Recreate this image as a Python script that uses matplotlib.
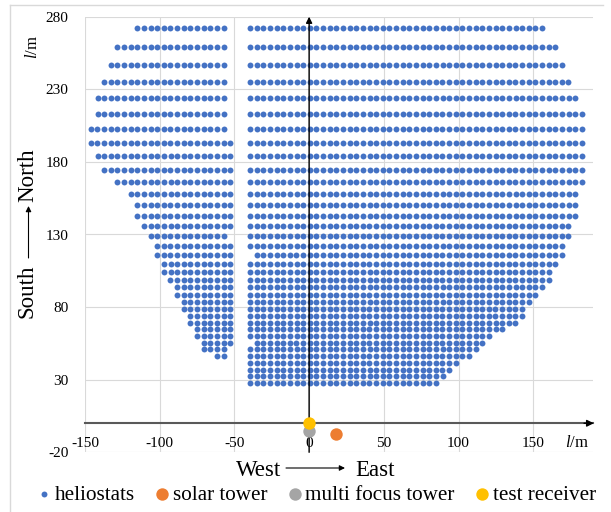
import matplotlib
matplotlib.use('Agg')
import matplotlib.pyplot as plt
import numpy as np
from matplotlib.lines import Line2D

plt.rcParams['font.family'] = 'Liberation Serif'
plt.rcParams['mathtext.fontset'] = 'custom'
plt.rcParams['mathtext.rm'] = 'Liberation Serif'
plt.rcParams['mathtext.it'] = 'Liberation Serif:italic'
plt.rcParams['axes.unicode_minus'] = False

# Heliostat field, one entry per row (m). West block is the part left of the gap.
spacing = 4.44
row_y = [272.0, 259.3, 247.0, 235.2, 223.8, 213.1, 202.8, 192.9, 183.9, 174.5,
         166.0, 158.0, 150.2, 142.6, 135.6, 128.8, 121.9, 116.1, 110.0, 104.0,
         98.8, 93.6, 88.5, 83.3, 78.5, 73.8, 69.2, 64.6, 59.9, 55.4,
         50.8, 46.2, 41.6, 37.0, 32.4, 28.0]
west_first = [-115.0, -128.3, -132.7, -137.2, -141.6, -141.6, -146.1, -146.1, -141.6, -137.2,
              -128.3, -119.4, -115.0, -115.0, -110.5, -106.1, -101.7, -101.7, -97.2, -97.2,
              -92.8, -88.3, -88.3, -83.9, -83.9, -79.5, -79.5, -75.0, -75.0, -70.6,
              -70.6, -61.7, None, None, None, None]
west_last = [-57.3, -57.3, -57.3, -57.3, -57.3, -57.3, -57.3, -52.8, -52.8, -52.8,
             -52.8, -52.8, -52.8, -52.8, -52.8, -57.3, -52.8, -52.8, -52.8, -52.8,
             -52.8, -52.8, -52.8, -52.8, -52.8, -52.8, -52.8, -52.8, -52.8, -52.8,
             -57.3, -57.3, None, None, None, None]
east_first = [-39.5] * 17 + [-35.1] + [-39.5] * 11 + [-35.1] + [-39.5] * 6
east_last = [155.9, 164.7, 169.2, 173.6, 178.1, 182.5, 182.5, 182.5, 182.5, 182.5,
             182.5, 178.1, 178.1, 178.1, 173.6, 173.6, 169.2, 169.2, 164.7, 160.3,
             160.3, 155.9, 151.4, 147.0, 142.5, 142.5, 138.1, 129.2, 120.3, 115.9,
             111.5, 107.0, 98.1, 93.7, 89.3, 84.8]

tower_x, tower_y = [18.0], [-7.5]
multi_x, multi_y = [0.0], [-5.0]
receiver_x, receiver_y = [0.0], [0.0]

x_ticks = [-150, -100, -50, 0, 50, 100, 150]
y_ticks = [-20, 30, 80, 130, 180, 230, 280]

# expand rows into heliostat positions
hx, hy = [], []
for y, w0, w1, e0, e1 in zip(row_y, west_first, west_last, east_first, east_last):
    for a, b in ((w0, w1), (e0, e1)):
        if a is None:
            continue
        n = int(round((b - a) / spacing)) + 1
        hx.extend(np.linspace(a, b, n))
        hy.extend([y] * n)

W, H = 611, 512
fig = plt.figure(figsize=(W / 100, H / 100), dpi=100)
ax = fig.add_axes([85 / W, 1 - 452.3 / H, (593 - 85) / W, (452.3 - 16.7) / H])

ax.scatter(hx, hy, s=18, color='#4472C4', linewidths=0, zorder=2, label='heliostats')
ax.scatter(tower_x, tower_y, s=80, color='#ED7D31', linewidths=0, zorder=5, label='solar tower')
ax.scatter(multi_x, multi_y, s=80, color='#A5A5A5', linewidths=0, zorder=5, label='multi focus tower')
ax.scatter(receiver_x, receiver_y, s=80, color='#FFC000', linewidths=0, zorder=6, label='test receiver')

ax.set_xlim(-150, 190)
ax.set_ylim(-20, 280)
ax.set_xticks(x_ticks)
ax.set_yticks(y_ticks)
ax.grid(True, color='#D9D9D9', lw=0.8)
ax.set_axisbelow(True)
for s in ['top', 'right', 'left']:
    ax.spines[s].set_visible(False)
ax.spines['bottom'].set_position(('data', 0))
ax.spines['bottom'].set_color('#595959')
ax.spines['bottom'].set_linewidth(1.5)
ax.tick_params(length=0, labelsize=11)
ax.tick_params(axis='x', pad=10)
ax.tick_params(axis='y', pad=12)

# axis arrows
ax.annotate('', xy=(190.5, 0), xytext=(184, 0), annotation_clip=False,
            arrowprops=dict(arrowstyle='-|>', color='black', lw=1, mutation_scale=10,
                            shrinkA=0, shrinkB=0))
ax.annotate('', xy=(0, 280), xytext=(0, -20), annotation_clip=False, zorder=4,
            arrowprops=dict(arrowstyle='-|>', color='black', lw=1, mutation_scale=9,
                            shrinkA=0, shrinkB=0))

ax.text(179, -13.6, '$l$/m', ha='center', va='center', fontsize=12)
fig.text(33 / W, 1 - 47 / H, '$l$/m', rotation=90, ha='center', va='center', fontsize=12)

# direction labels
fig.text(27.5 / W, 1 - 291.5 / H, 'South', rotation=90, ha='center', va='center', fontsize=16.5)
fig.text(27.5 / W, 1 - 175 / H, 'North', rotation=90, ha='center', va='center', fontsize=16.5)
ax.annotate('', xy=(28.5, H - 206), xytext=(28.5, H - 258), xycoords='figure pixels',
            textcoords='figure pixels', annotation_clip=False,
            arrowprops=dict(arrowstyle='-|>', color='black', lw=0.8, mutation_scale=8,
                            shrinkA=0, shrinkB=0))
fig.text(281 / W, 1 - 471 / H, 'West', ha='right', va='center', fontsize=16.5)
fig.text(355 / W, 1 - 471 / H, 'East', ha='left', va='center', fontsize=16.5)
ax.annotate('', xy=(345, H - 468), xytext=(286, H - 468), xycoords='figure pixels',
            textcoords='figure pixels', annotation_clip=False,
            arrowprops=dict(arrowstyle='-|>', color='black', lw=0.8, mutation_scale=8,
                            shrinkA=0, shrinkB=0))

fig.legend(loc='center', bbox_to_anchor=(0.517, 1 - 495 / H), ncol=4, frameon=False,
           fontsize=15.2, handletextpad=0.1, columnspacing=0.9, handlelength=0.8,
           borderpad=0, scatterpoints=1)

# outer frame (top and left edges only)
fig.add_artist(Line2D([10 / W, 603 / W], [1 - 5 / H, 1 - 5 / H], color='#D9D9D9', lw=1,
                      transform=fig.transFigure))
fig.add_artist(Line2D([10 / W, 10 / W], [0, 1 - 5 / H], color='#D9D9D9', lw=1,
                      transform=fig.transFigure))

fig.savefig('out.png', dpi=100)
